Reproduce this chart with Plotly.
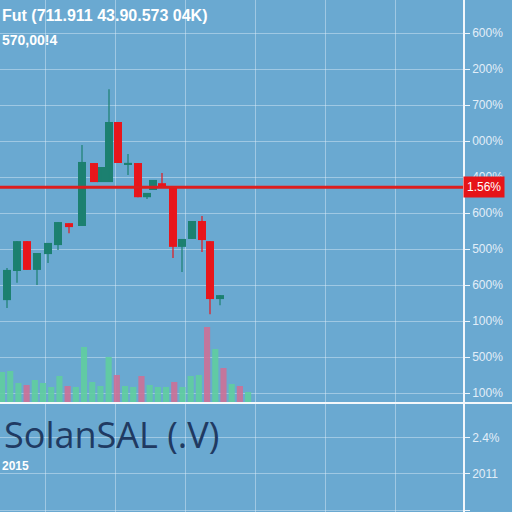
import plotly.graph_objects as go

# candles (day index, OHLC)
day = [0, 1, 2, 3, 4.1, 5.1, 6.2, 7.5, 8.7, 9.4, 10.2, 11.1, 12.1, 13.1, 14, 14.6,
       15.5, 16.6, 17.5, 18.5, 19.5, 20.3, 21.3]
open_ = [25.8, 33.9, 42.2, 34.2, 38.6, 41.1, 47.2, 46.4, 63.9, 58.6, 58.6, 75.3, 63.6,
         63.9, 54.4, 56.4, 58.3, 57.5, 40.6, 42.8, 47.8, 42.2, 26.1]
close = [34.2, 42.2, 34.2, 38.9, 41.7, 47.5, 46.1, 64.2, 58.6, 62.8, 75.3, 63.9, 63.9,
         54.4, 55.6, 59.2, 57.2, 40.6, 42.8, 47.8, 42.5, 26.1, 27.2]
high = [34.7, 42.2, 42.2, 38.9, 41.7, 47.5, 47.2, 68.9, 63.9, 62.8, 84.4, 75.3, 66.4,
        63.9, 55.6, 59.2, 61.1, 57.5, 42.8, 47.8, 49.2, 42.2, 27.2]
low = [23.6, 30.6, 34.2, 30.0, 36.1, 39.7, 44.4, 46.4, 58.6, 58.6, 58.6, 63.9, 60.6,
       54.4, 53.9, 56.4, 57.2, 37.5, 33.6, 42.8, 39.2, 21.9, 24.4]

# volume bars
volume = [31, 32, 20, 18, 23, 20, 16, 27, 17, 16, 56, 21, 17, 46, 28, 17, 16, 27, 18,
          16, 16, 21, 16, 27, 28, 76, 54, 35, 19, 17, 11]
vol_up = [1, 1, 1, 0, 1, 1, 1, 1, 0, 1, 1, 1, 1, 1, 0, 1, 1, 0, 1, 1, 1, 0, 1, 1, 1,
          0, 1, 0, 1, 0, 1]

last_price = 57.2
last_label = "1.56%"

price_ticks = [0, 10, 20, 30, 40, 50, 60, 70, 80, 90, 100]
price_labels = ["100%", "500%", "100%", "600%", "500%", "600%", "400%", "000%",
                "700%", "200%", "600%"]
lower_ticks = [0, 1, 2]
lower_labels = ["1.2%", "2011", "2.4%"]

BG = "rgb(106,169,209)"
GRID = "rgba(225,238,248,0.45)"
UP = "rgb(28,128,112)"
DOWN = "rgb(232,22,28)"

up_idx = [i for i in range(len(day)) if close[i] >= open_[i]]
dn_idx = [i for i in range(len(day)) if close[i] < open_[i]]


def wick_xy(idx):
    xs, ys = [], []
    for i in idx:
        xs += [day[i], day[i], None]
        ys += [low[i], high[i], None]
    return xs, ys


fig = go.Figure()
for idx, col in [(up_idx, UP), (dn_idx, DOWN)]:
    wx, wy = wick_xy(idx)
    fig.add_trace(go.Scatter(x=wx, y=wy, mode="lines", line=dict(color=col, width=1.2),
                             hoverinfo="skip", xaxis="x", yaxis="y"))
    fig.add_trace(go.Bar(
        x=[day[i] for i in idx],
        base=[min(open_[i], close[i]) for i in idx],
        y=[max(abs(close[i] - open_[i]), 0.35) for i in idx],
        width=0.8, marker=dict(color=col, line=dict(width=0)),
        xaxis="x", yaxis="y"))

fig.add_trace(go.Bar(
    x=list(range(len(volume))), y=volume, width=0.75,
    marker=dict(color=["rgba(96,205,158,0.9)" if u else "rgba(205,112,150,0.9)" for u in vol_up],
                line=dict(width=0)),
    xaxis="x2", yaxis="y2"))

# empty trace so the lower panel axes are drawn
fig.add_trace(go.Scatter(x=[None], y=[None], xaxis="x3", yaxis="y3"))

split = 109 / 512
grid_x = dict(tick0=3.8, dtick=7, showgrid=True, gridcolor=GRID, gridwidth=1,
              showticklabels=False, zeroline=False, range=[-0.7, 45.6])


def label(text, x, ypx, size, color="white", family=None):
    f = dict(color=color, size=size)
    if family:
        f["family"] = family
    return dict(text=text, xref="paper", yref="paper", x=x, y=1 - ypx / 512,
                xanchor="left", yanchor="middle", showarrow=False, font=f)


fig.update_layout(
    width=512, height=512,
    margin=dict(l=0, r=49, t=0, b=0),
    paper_bgcolor=BG, plot_bgcolor=BG,
    showlegend=False, barmode="overlay",
    font=dict(family="Liberation Sans, Arial, sans-serif", color="#e2eef8", size=12),
    xaxis=dict(domain=[0, 1], anchor="y", **grid_x),
    xaxis2=dict(overlaying="x", anchor="y2", range=[-0.244, 56.2], visible=False),
    xaxis3=dict(domain=[0, 1], anchor="y3", matches="x", **grid_x),
    yaxis=dict(domain=[split, 1], range=[-2.78, 109.2], side="right",
               tickvals=price_ticks, ticktext=price_labels, ticks="outside",
               ticklen=5, tickcolor="#eef5fb", showgrid=True, gridcolor=GRID,
               showline=True, linecolor="#f2f7fb", linewidth=1.5, zeroline=False),
    yaxis2=dict(overlaying="y", anchor="x2", range=[0, 403], visible=False),
    yaxis3=dict(domain=[0, split], range=[-0.05, 2.95], side="right", anchor="x3",
                tickvals=lower_ticks, ticktext=lower_labels, ticks="outside",
                ticklen=5, tickcolor="#eef5fb", showgrid=True, gridcolor=GRID,
                showline=True, linecolor="#f2f7fb", linewidth=1.5, zeroline=False),
    shapes=[
        dict(type="line", xref="paper", yref="y", x0=0, x1=1, y0=last_price, y1=last_price,
             line=dict(color="rgb(222,30,30)", width=3)),
        dict(type="line", xref="paper", yref="paper", x0=0, x1=512 / 463, y0=split, y1=split,
             line=dict(color="#f4f8fb", width=2)),
    ],
    annotations=[
        dict(text=last_label, xref="paper", yref="y", x=1, y=last_price, xanchor="left",
             yanchor="middle", showarrow=False, bgcolor="rgb(230,20,24)", borderpad=3,
             font=dict(color="white", size=12)),
        label("<b>Fut (711.911 43.90.573 04K)</b>", 0, 15, 16),
        label("<b>570,00!4</b>", 0, 40, 14),
        label("SolanSAL (.V)", 0.005, 434, 36, color="rgb(32,58,98)",
              family="Open Sans, Noto Sans, sans-serif"),
        label("<b>2015</b>", 0, 466, 12),
    ],
)

fig.write_html("out.html", config={"displayModeBar": False},
               post_script="document.body.style.margin='0';")
